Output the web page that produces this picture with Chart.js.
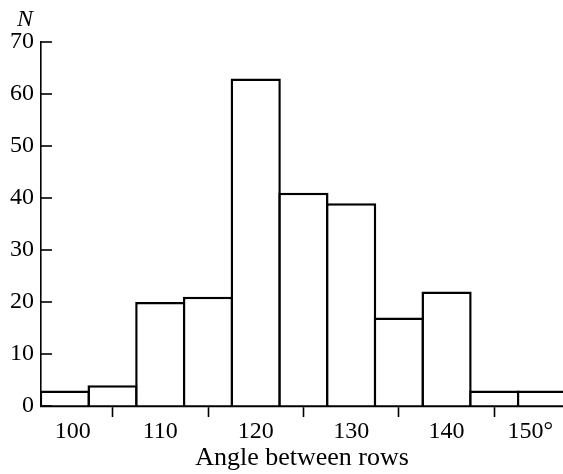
<!DOCTYPE html>
<html><head><meta charset="utf-8">
<script src="https://cdn.jsdelivr.net/npm/chart.js@4"></script>
<style>html,body{margin:0;padding:0;background:#fff}#wrap{width:563px;height:474px;position:relative}</style>
</head><body><div id="wrap"><canvas id="c" width="563" height="474"></canvas></div>
<script>
const binCenters = [100, 105, 110, 115, 120, 125, 130, 135, 140, 145, 150];
const counts = [3, 4, 20, 21, 63, 41, 39, 17, 22, 3, 3];
const xLabelValues = [100, 110, 120, 130, 140, 150];
const xLabels = ['100', '110', '120', '130', '140', '150°'];
const yTicks = [0, 10, 20, 30, 40, 50, 60, 70];
const xTitle = 'Angle between rows';
const yTitle = 'N';

const SERIF = '"Liberation Serif", "DejaVu Serif", serif';

const customAxes = {
  id: 'customAxes',
  afterDraw(chart) {
    const ctx = chart.ctx, xs = chart.scales.x, ys = chart.scales.y;
    ctx.save();
    ctx.strokeStyle = '#000';
    ctx.lineWidth = 1.6;
    const ax = xs.left;
    yTicks.forEach(v => {
      const py = ys.getPixelForValue(v);
      ctx.beginPath();
      ctx.moveTo(ax, py);
      ctx.lineTo(ax + 11, py);
      ctx.stroke();
    });
    ctx.fillStyle = '#000';
    ctx.font = '24px ' + SERIF;
    ctx.textBaseline = 'alphabetic';
    xLabelValues.forEach((v, i) => {
      const px = xs.getPixelForValue(v);
      let tx = px;
      if (i === 0) { ctx.textAlign = 'left'; tx = px - 10; }
      else if (i === xLabelValues.length - 1) { ctx.textAlign = 'right'; tx = px + 11; }
      else { ctx.textAlign = 'center'; }
      ctx.fillText(xLabels[i], tx, 438);
    });
    ctx.font = 'italic 24px ' + SERIF;
    ctx.textAlign = 'left';
    ctx.fillText(yTitle, 17, 26);
    ctx.restore();
  }
};

new Chart(document.getElementById('c'), {
  type: 'bar',
  data: {
    datasets: [{
      data: binCenters.map((c, i) => ({ x: c, y: counts[i] })),
      backgroundColor: '#fff',
      borderColor: '#000',
      borderWidth: 2.5,
      barPercentage: 1.052,
      categoryPercentage: 1
    }]
  },
  options: {
    responsive: false,
    animation: false,
    devicePixelRatio: 1,
    layout: { padding: { top: 42, left: 0, right: 0, bottom: 0 } },
    plugins: { legend: { display: false }, tooltip: { enabled: false } },
    scales: {
      x: {
        type: 'linear', min: 97.5, max: 152.2, offset: false,
        afterBuildTicks: s => { s.ticks = binCenters.map(v => ({ value: v })); },
        afterFit: s => { s.height = 68; },
        grid: {
          offset: false, drawOnChartArea: false, drawTicks: true, tickLength: 11, tickWidth: 1.6,
          tickColor: c => (c.tick && c.tick.value % 10 === 0) ? 'rgba(0,0,0,0)' : '#000'
        },
        border: { display: true, color: '#000', width: 2.2 },
        ticks: { display: false },
        title: { display: true, text: xTitle, font: { family: SERIF, size: 26 }, color: '#000', padding: 0 }
      },
      y: {
        min: 0, max: 70,
        afterBuildTicks: s => { s.ticks = yTicks.map(v => ({ value: v })); },
        afterFit: s => { s.width = 41; },
        grid: { drawOnChartArea: false, drawTicks: false },
        border: { display: true, color: '#000', width: 1.6 },
        ticks: { color: '#000', font: { family: SERIF, size: 24 }, padding: 7 }
      }
    }
  },
  plugins: [customAxes]
});
</script>
</body></html>
